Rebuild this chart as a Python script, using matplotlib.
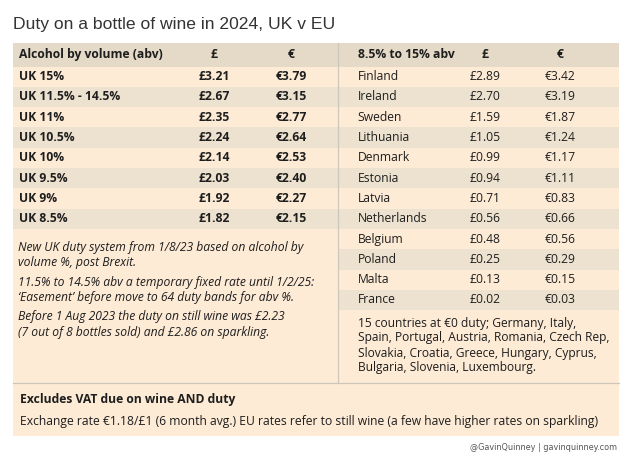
import matplotlib
matplotlib.use("Agg")
import matplotlib.pyplot as plt
from matplotlib.patches import Rectangle
from matplotlib import font_manager

# ---- data ----
title = "Duty on a bottle of wine in 2024, UK v EU"
uk_header = ["Alcohol by volume (abv)", "£", "€"]
uk_bands = ["UK 15%", "UK 11.5% - 14.5%", "UK 11%", "UK 10.5%", "UK 10%",
            "UK 9.5%", "UK 9%", "UK 8.5%"]
uk_gbp = ["£3.21", "£2.67", "£2.35", "£2.24", "£2.14", "£2.03", "£1.92", "£1.82"]
uk_eur = ["€3.79", "€3.15", "€2.77", "€2.64", "€2.53", "€2.40", "€2.27", "€2.15"]

eu_header = ["8.5% to 15% abv", "£", "€"]
eu_countries = ["Finland", "Ireland", "Sweden", "Lithuania", "Denmark", "Estonia",
                "Latvia", "Netherlands", "Belgium", "Poland", "Malta", "France"]
eu_gbp = ["£2.89", "£2.70", "£1.59", "£1.05", "£0.99", "£0.94", "£0.71", "£0.56",
          "£0.48", "£0.25", "£0.13", "£0.02"]
eu_eur = ["€3.42", "€3.19", "€1.87", "€1.24", "€1.17", "€1.11", "€0.83", "€0.66",
          "€0.56", "€0.29", "€0.15", "€0.03"]

uk_notes = [
    "New UK duty system from 1/8/23 based on alcohol by\nvolume %, post Brexit.",
    "11.5% to 14.5% abv a temporary fixed rate until 1/2/25:\n\u2018Easement\u2019 before move to 64 duty bands for abv %.",
    "Before 1 Aug 2023 the duty on still wine was £2.23\n(7 out of 8 bottles sold) and £2.86 on sparkling.",
]
eu_note = ("15 countries at €0 duty; Germany, Italy,\nSpain, Portugal, Austria, Romania, Czech Rep,\n"
           "Slovakia, Croatia, Greece, Hungary, Cyprus,\nBulgaria, Slovenia, Luxembourg.")
footer_bold = "Excludes VAT due on wine AND duty"
footer_text = ("Exchange rate €1.18/£1 (6 month avg.) EU rates refer to still wine "
               "(a few have higher rates on sparkling)")
credit = "@GavinQuinney | gavinquinney.com"

# ---- style ----
LIGHT = "#fdebd6"
DARK = "#ede2cf"
HEAD = "#e5dac7"
LINE = "#cdc6ba"
TXT = "#1e1e1e"
BODY = ["Open Sans", "DejaVu Sans"]

fig = plt.figure(figsize=(6.3, 4.59), dpi=100)
ax = fig.add_axes([0, 0, 1, 1])
ax.set_xlim(0, 630)
ax.set_ylim(459, 0)
ax.axis("off")

L0, MID, R1 = 13, 337.5, 619
TOP, HEAD_B, ROW_H = 43, 66.5, 20.3
BOTTOM, FOOT_B = 383, 435.5

def rect(x0, y0, x1, y1, c):
    ax.add_patch(Rectangle((x0, y0), x1 - x0, y1 - y0, facecolor=c, edgecolor="none", zorder=0))

# backgrounds
rect(L0, TOP, R1, FOOT_B, LIGHT)
rect(L0, TOP, R1, HEAD_B, HEAD)
for i in range(len(uk_bands)):
    if i % 2 == 1:
        rect(L0, HEAD_B + i * ROW_H, MID, HEAD_B + (i + 1) * ROW_H, DARK)
for i in range(len(eu_countries)):
    if i % 2 == 1:
        rect(MID, HEAD_B + i * ROW_H, R1, HEAD_B + (i + 1) * ROW_H, DARK)

ax.plot([MID, MID], [TOP, BOTTOM], color=LINE, lw=0.9, zorder=1)
ax.plot([L0, R1], [BOTTOM, BOTTOM], color=LINE, lw=0.9, zorder=1)

# title
ax.text(L0, 24, title, fontsize=12.6, family=["Liberation Sans", "DejaVu Sans"],
        color="#333333", va="center", ha="left")

FS = 8.7
hy = (TOP + HEAD_B) / 2
# UK header
ax.text(19, hy, uk_header[0], fontsize=FS, weight="bold", family=BODY, color=TXT, va="center")
ax.text(214, hy, uk_header[1], fontsize=FS, weight="bold", family=BODY, color=TXT, va="center", ha="center")
ax.text(291, hy, uk_header[2], fontsize=FS, weight="bold", family=BODY, color=TXT, va="center", ha="center")
for i, (b, g, e) in enumerate(zip(uk_bands, uk_gbp, uk_eur)):
    y = HEAD_B + (i + 0.5) * ROW_H
    ax.text(19, y, b, fontsize=FS, weight="bold", family=BODY, color=TXT, va="center")
    ax.text(214, y, g, fontsize=FS, weight="bold", family=BODY, color=TXT, va="center", ha="center")
    ax.text(291, y, e, fontsize=FS, weight="bold", family=BODY, color=TXT, va="center", ha="center")

# EU header
ax.text(357.5, hy, eu_header[0], fontsize=FS, weight="bold", family=BODY, color=TXT, va="center")
ax.text(485, hy, eu_header[1], fontsize=FS, weight="bold", family=BODY, color=TXT, va="center", ha="center")
ax.text(560, hy, eu_header[2], fontsize=FS, weight="bold", family=BODY, color=TXT, va="center", ha="center")
for i, (c, g, e) in enumerate(zip(eu_countries, eu_gbp, eu_eur)):
    y = HEAD_B + (i + 0.5) * ROW_H
    ax.text(357.5, y, c, fontsize=FS, family=BODY, color=TXT, va="center")
    ax.text(485, y, g, fontsize=FS, family=BODY, color=TXT, va="center", ha="center")
    ax.text(560, y, e, fontsize=FS, family=BODY, color=TXT, va="center", ha="center")

# UK notes (block centres)
note_centres = [254.8, 290.0, 324.5]
for n, yc in zip(uk_notes, note_centres):
    ax.text(18.5, yc, n, fontsize=8.7, style="italic", family=BODY, color=TXT,
            va="center", ha="left", linespacing=1.22)

# EU note
ax.text(357.5, 345.5, eu_note, fontsize=8.65, family=BODY, color=TXT,
        va="center", ha="left", linespacing=1.2)

# footer
ax.text(20, 400, footer_bold, fontsize=8.7, weight="bold", family=BODY, color=TXT, va="center")
ax.text(20, 421, footer_text, fontsize=8.7, family=BODY, color=TXT, va="center")

# credit in a condensed face if available
cond = None
for f in font_manager.fontManager.ttflist:
    if f.name == "DejaVu Sans" and "Condensed" in f.fname and "Bold" not in f.fname and "Oblique" not in f.fname:
        cond = f.fname
        break
if cond:
    ax.text(617, 448, credit, color="#555555", va="center", ha="right",
            fontproperties=font_manager.FontProperties(fname=cond, size=6.5))
else:
    ax.text(617, 448, credit, fontsize=6.3,
            family=["Liberation Sans", "DejaVu Sans"], color="#555555", va="center", ha="right")

fig.savefig("out.png", dpi=100)
